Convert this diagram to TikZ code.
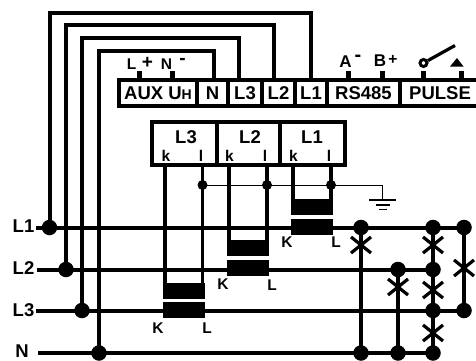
\documentclass[tikz,border=0pt]{standalone}
\usepackage{fontspec}
\setmainfont{Liberation Sans}[BoldFont={Liberation Sans Bold}]
\newcommand{\lab}[1]{\fontsize{#1}{#1}\selectfont\bfseries}
\tikzset{
 x=1pt,y=-1pt,
 wire/.style={line width=4pt,line cap=butt,line join=miter,draw=black},
 tap/.style={line width=3.8pt,draw=black},
 thinw/.style={line width=1pt,draw=black},
 fuse/.style={line width=3.2pt,draw=black},
 dot/.style={circle,fill=black,inner sep=0pt,minimum size=15.5pt},
 sdot/.style={circle,fill=black,inner sep=0pt,minimum size=10pt},
 cell/.style={draw=black,line width=3.4pt,inner sep=0pt,minimum height=26pt,font=\lab{18.5}},
 ctcell/.style={draw=black,line width=3.4pt,inner sep=0pt,minimum height=43pt,minimum width=64pt},
 txt/.style={inner sep=0pt,font=\lab{18.5}},
 smalltxt/.style={inner sep=0pt,font=\lab{15.5}},
 core/.style={fill=black,draw=none,inner sep=0pt,minimum width=42pt,minimum height=16pt},
 pin/.style={fill=black,draw=none,inner sep=0pt,minimum width=5pt,minimum height=9pt},
}
\begin{document}
\begin{tikzpicture}
\useasboundingbox (0,0) rectangle (476,361);
\clip (0,0) rectangle (476,361);
\fill[white] (0,0) rectangle (476,361);
% line labels
\node[txt] (tL1) at (23.5,226) {L1};
\node[txt] (tL2) at (23.5,268) {L2};
\node[txt] (tL3) at (23.5,310) {L3};
\node[txt] (tN) at (22,351) {N};
\coordinate (s1) at (36,227.5);
\coordinate (s2) at (37,269.5);
\coordinate (s3) at (36,310.5);
\coordinate (s4) at (38,353);
% dots on lines
\node[dot] (a1) at (49.5,227.5) {};
\node[dot] (a2) at (66,269.5) {};
\node[dot] (a3) at (82,310.5) {};
\node[dot] (a4) at (99,353) {};
\node[dot] (b1) at (361,227.5) {};
\node[dot] (c1) at (433,227.5) {};
\node[dot] (d1) at (464,227.5) {};
\node[dot] (b2) at (398,269.5) {};
\node[dot] (c2) at (433,269.5) {};
\node[dot] (c3) at (433,310.5) {};
\node[dot] (d3) at (464,310.5) {};
\node[dot] (b4) at (361,353) {};
\node[dot] (c4) at (398,353) {};
\node[dot] (e4) at (433,353) {};
% mains
\draw[wire] (s1) -- (d1.center);
\draw[wire] (s2) -- (c2.center);
\draw[wire] (s3) -- (d3.center);
\draw[wire] (s4) -- (e4.center);
\draw[wire] (b1.center) -- (b4.center);
\draw[wire] (b2.center) -- (c4.center);
\draw[wire] (c1.center) -- (e4.center);
\draw[wire] (d1.center) -- (d3.center);
% terminal row
\node[cell,minimum width=78pt] (aux) at (158,93) {AUX U\raisebox{-0.5pt}{\fontsize{14}{14}\selectfont H}};
\node[cell,minimum width=31pt] (cN) at (212.5,93) {N};
\node[cell,minimum width=34pt] (cL3) at (245,93) {L3};
\node[cell,minimum width=33pt] (cL2) at (278.5,93) {L2};
\node[cell,minimum width=32pt] (cL1) at (311,93) {L1};
\node[cell,minimum width=73pt] (cRS) at (363.5,93) {RS485};
\node[cell,minimum width=80pt] (cP) at (440,93) {PULSE};
% upper wires
\coordinate (pN) at (214,80);
\coordinate (pL3) at (239,80);
\coordinate (pL2) at (274,80);
\coordinate (pL1) at (311,80);
\draw[wire] (a1.center) -- (a1.center |- 0,13) -| (pL1);
\draw[wire] (a2.center) -- (a2.center |- 0,25) -| (pL2);
\draw[wire] (a3.center) -- (a3.center |- 0,38) -| (pL3);
\draw[wire] (a4.center) -- (a4.center |- 0,51) -| (pN);
% pins
\node[pin] (p1) at (139,75.5) {};
\node[pin] (p2) at (172,75.5) {};
\node[pin] (p3) at (348,75.5) {};
\node[pin] (p4) at (382,75.5) {};
\node[pin] (p5) at (423.5,75.5) {};
\node[pin] (p6) at (461,75.5) {};
\node[smalltxt] (lL) at (131.5,64) {L};
\node[smalltxt,font=\lab{19}] (lp) at (147.5,62.5) {+};
\node[smalltxt] (lNn) at (166.5,64) {N};
\node[smalltxt,font=\lab{19}] (lm) at (182.5,61) {-};
\node[txt,font=\lab{17}] (lA) at (345.5,61.5) {A};
\node[smalltxt,font=\lab{20}] (lAm) at (358,58.5) {-};
\node[txt,font=\lab{17}] (lB) at (380,60.5) {B};
\node[smalltxt] (lBp) at (393,60) {+};
% switch
\node[circle,draw=black,line width=3pt,fill=white,inner sep=0pt,minimum size=7pt] (sw) at (423.5,63) {};
\coordinate (swe) at (455,45.5);
\draw[line width=3.2pt] (sw) -- (swe);
\fill (457,58) coordinate (tri) -- (463.5,66.5) -- (450,66.5) -- cycle;
% CT box
\node[ctcell,minimum width=65pt] (ct3) at (184.5,143.5) {};
\node[ctcell,minimum width=63pt] (ct2) at (248.5,143.5) {};
\node[ctcell,minimum width=65pt] (ct1) at (312.5,143.5) {};
\node[txt] (n3) at (186,137) {L3};
\node[txt] (n2) at (250,137) {L2};
\node[txt] (n1) at (312,137) {L1};
\node[smalltxt] (k3) at (166,155.5) {k};
\node[smalltxt] (l3) at (201,155.5) {l};
\node[smalltxt] (k2) at (229.5,155.5) {k};
\node[smalltxt] (l2) at (265,155.5) {l};
\node[smalltxt] (k1) at (293.5,155.5) {k};
\node[smalltxt] (l1) at (329,155.5) {l};
% CT cores
\node[core] (u3) at (184,291) {};
\node[core] (w3) at (184,310) {};
\node[core] (u2) at (248,248) {};
\node[core] (w2) at (248,268) {};
\node[core] (u1) at (312,207) {};
\node[core] (w1) at (312,227) {};
\node[sdot] (g3) at (202.5,185) {};
\node[sdot] (g2) at (267,185) {};
\node[sdot] (g1) at (331,185) {};
\coordinate (kt3) at (165,165);
\coordinate (lt3) at (202.5,165);
\coordinate (kt2) at (229,165);
\coordinate (lt2) at (267,165);
\coordinate (kt1) at (293,165);
\coordinate (lt1) at (331,165);
\draw[tap] (kt3) -- (kt3 |- u3.north);
\draw[tap] (lt3) -- (lt3 |- u3.north);
\draw[tap] (kt2) -- (kt2 |- u2.north);
\draw[tap] (lt2) -- (lt2 |- u2.north);
\draw[tap] (kt1) -- (kt1 |- u1.north);
\draw[tap] (lt1) -- (lt1 |- u1.north);
\coordinate (gnd) at (382,200);
\draw[thinw] (g3.center) -| (gnd);
\draw[thinw,line width=1.4pt] (369,200) -- (396,200);
\draw[thinw,line width=1.4pt] (376,205) -- (390,205);
\draw[thinw,line width=1.4pt] (379,209.5) -- (387,209.5);
% CT terminal labels
\node[smalltxt] (K3) at (158,328) {K};
\node[smalltxt] (L3x) at (207,328) {L};
\node[smalltxt] (K2) at (223,284) {K};
\node[smalltxt] (L2x) at (272,285) {L};
\node[smalltxt] (K1) at (287,242) {K};
\node[smalltxt] (L1x) at (336,242) {L};
% fuses
\foreach \n/\x/\y in {f1/361/245,f2/398/287,f3/433/245,f4/433/290,f5/433/333,f6/464/268}{
  \coordinate (\n) at (\x,\y);
  \draw[fuse] ([shift={(-10,-8)}]\n) -- ([shift={(10,8)}]\n);
  \draw[fuse] ([shift={(-10,8)}]\n) -- ([shift={(10,-8)}]\n);
}
\end{tikzpicture}
\end{document}
